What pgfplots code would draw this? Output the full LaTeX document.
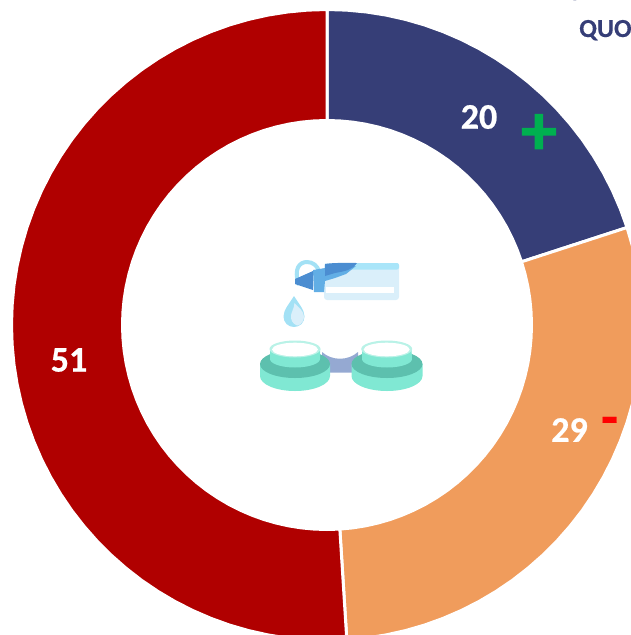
\documentclass[border=0pt]{standalone}
\usepackage{pgfplots}
\usepackage{fontspec}
\pgfplotsset{compat=1.18}
\setmainfont{Carlito}
\definecolor{navy}{HTML}{363E77}
\definecolor{orng}{HTML}{F09C5C}
\definecolor{rd}{HTML}{B00000}
\definecolor{grn}{HTML}{00B050}
\definecolor{tealA}{HTML}{80E8D3}
\definecolor{tealB}{HTML}{5DC0AE}
\definecolor{conn}{HTML}{95A9D2}
\definecolor{bodyb}{HTML}{DAEFFA}
\definecolor{topb}{HTML}{A9E5F9}
\definecolor{capA}{HTML}{4B8DD1}
\definecolor{capB}{HTML}{62AEE5}
\definecolor{loopc}{HTML}{A3E1F5}
\pgfplotsset{ring/.style={draw=white,line width=3pt,line join=miter},
 table/ringxy/.style={row sep=\\,x expr={327+\thisrow{r}*sin(3.6*\thisrow{p})},y expr={325-\thisrow{r}*cos(3.6*\thisrow{p})}}}
\newcommand{\lab}[2]{\fontsize{#1}{#1}\selectfont\bfseries\addfontfeature{FakeBold=#2}}
\begin{document}
\begin{tikzpicture}[x=1pt,y=1pt]
\useasboundingbox (0,0) rectangle (631,635);
\clip (0,0) rectangle (631,635);
\begin{axis}[at={(0,0)},anchor=south west,scale only axis,width=631pt,height=635pt,
 xmin=0,xmax=631,ymin=0,ymax=635,y dir=reverse,hide axis,clip=true]
% share 20
\addplot[ring,fill=navy] table[ringxy] {p r\\
0 315.5\\1 315.5\\2 315.5\\3 315.5\\4 315.5\\5 315.5\\6 315.5\\7 315.5\\8 315.5\\9 315.5\\10 315.5\\
11 315.5\\12 315.5\\13 315.5\\14 315.5\\15 315.5\\16 315.5\\17 315.5\\18 315.5\\19 315.5\\20 315.5\\
20 204.5\\19 204.5\\18 204.5\\17 204.5\\16 204.5\\15 204.5\\14 204.5\\13 204.5\\12 204.5\\11 204.5\\
10 204.5\\9 204.5\\8 204.5\\7 204.5\\6 204.5\\5 204.5\\4 204.5\\3 204.5\\2 204.5\\1 204.5\\0 204.5\\
} -- cycle;
% share 29
\addplot[ring,fill=orng] table[ringxy] {p r\\
20 315.5\\21 315.5\\22 315.5\\23 315.5\\24 315.5\\25 315.5\\26 315.5\\27 315.5\\28 315.5\\29 315.5\\
30 315.5\\31 315.5\\32 315.5\\33 315.5\\34 315.5\\35 315.5\\36 315.5\\37 315.5\\38 315.5\\39 315.5\\
40 315.5\\41 315.5\\42 315.5\\43 315.5\\44 315.5\\45 315.5\\46 315.5\\47 315.5\\48 315.5\\49 315.5\\
49 204.5\\48 204.5\\47 204.5\\46 204.5\\45 204.5\\44 204.5\\43 204.5\\42 204.5\\41 204.5\\40 204.5\\
39 204.5\\38 204.5\\37 204.5\\36 204.5\\35 204.5\\34 204.5\\33 204.5\\32 204.5\\31 204.5\\30 204.5\\
29 204.5\\28 204.5\\27 204.5\\26 204.5\\25 204.5\\24 204.5\\23 204.5\\22 204.5\\21 204.5\\20 204.5\\
} -- cycle;
% share 51
\addplot[ring,fill=rd] table[ringxy] {p r\\
49 315.5\\50 315.5\\51 315.5\\52 315.5\\53 315.5\\54 315.5\\55 315.5\\56 315.5\\57 315.5\\58 315.5\\59 315.5\\
60 315.5\\61 315.5\\62 315.5\\63 315.5\\64 315.5\\65 315.5\\66 315.5\\67 315.5\\68 315.5\\69 315.5\\
70 315.5\\71 315.5\\72 315.5\\73 315.5\\74 315.5\\75 315.5\\76 315.5\\77 315.5\\78 315.5\\79 315.5\\
80 315.5\\81 315.5\\82 315.5\\83 315.5\\84 315.5\\85 315.5\\86 315.5\\87 315.5\\88 315.5\\89 315.5\\
90 315.5\\91 315.5\\92 315.5\\93 315.5\\94 315.5\\95 315.5\\96 315.5\\97 315.5\\98 315.5\\99 315.5\\100 315.5\\
100 204.5\\99 204.5\\98 204.5\\97 204.5\\96 204.5\\95 204.5\\94 204.5\\93 204.5\\92 204.5\\91 204.5\\
90 204.5\\89 204.5\\88 204.5\\87 204.5\\86 204.5\\85 204.5\\84 204.5\\83 204.5\\82 204.5\\81 204.5\\
80 204.5\\79 204.5\\78 204.5\\77 204.5\\76 204.5\\75 204.5\\74 204.5\\73 204.5\\72 204.5\\71 204.5\\
70 204.5\\69 204.5\\68 204.5\\67 204.5\\66 204.5\\65 204.5\\64 204.5\\63 204.5\\62 204.5\\61 204.5\\
60 204.5\\59 204.5\\58 204.5\\57 204.5\\56 204.5\\55 204.5\\54 204.5\\53 204.5\\52 204.5\\51 204.5\\50 204.5\\49 204.5\\
} -- cycle;
% icon: bottle
\draw[loopc,line width=4pt] (299,285) .. controls (293,268) and (300,262) .. (307,262) .. controls (313,262) and (318,266) .. (319,272);
\fill[bodyb,rounded corners=3pt] (324,263) rectangle (399,300);
\fill[topb,rounded corners=2pt] (340,263) rectangle (399,269.5);
\fill[white] (326,287) rectangle (394,293);
\fill[capB] (313,270) -- (325,268) -- (356,266) -- (346,274) -- (335,278) -- (325,281) -- (324,292) -- (314,292) -- cycle;
\fill[capA] (325,264) .. controls (335,262.5) and (345,263) .. (357,263) .. controls (352,270) and (346,271) .. (335,273) -- (325,276) -- cycle;
\fill[capA] (295,279) -- (313,271) -- (313,290) -- (295,284) -- cycle;
% drop
\fill[loopc] (294,296) .. controls (289,304) and (283.5,310) .. (283.5,316.5) .. controls (283.5,322.5) and (288,327) .. (294,327) .. controls (300,327) and (304.5,322.5) .. (304.5,316.5) .. controls (304.5,310) and (299,304) .. (294,296) -- cycle;
\fill[bodyb] (294.5,303) .. controls (294,310) and (290.5,312) .. (291,318) .. controls (291.5,323) and (296,325.5) .. (298,325.5) .. controls (302,324) and (304,320) .. (304,316.5) .. controls (304,311) and (298,307) .. (294.5,303) -- cycle;
% connector
\fill[conn] (322,352) .. controls (332,361) and (348,361) .. (358,352) -- (358,372.5) -- (322,372.5) -- cycle;
% left case
\fill[tealA] (260,364) -- (260,376) arc[start angle=180,end angle=360,x radius=35pt,y radius=15pt] -- (330,364) -- cycle;
\fill[tealB] (295,364) ellipse (35pt and 14pt);
\fill[tealA] (270,349) -- (270,359) arc[start angle=180,end angle=360,x radius=25pt,y radius=8.5pt] -- (320,349) -- cycle;
\fill[tealA!55!white] (295,349) ellipse (25.5pt and 8.5pt);
\fill[white] (295,349.5) ellipse (23pt and 6.8pt);
% right case
\fill[tealA] (351.5,364) -- (351.5,376) arc[start angle=180,end angle=360,x radius=35.5pt,y radius=15pt] -- (422.5,364) -- cycle;
\fill[tealB] (387,364) ellipse (35.5pt and 14pt);
\fill[tealA] (362,349) -- (362,359) arc[start angle=180,end angle=360,x radius=25pt,y radius=8.5pt] -- (411.5,349) -- cycle;
\fill[tealA!55!white] (386.7,349) ellipse (25.5pt and 8.5pt);
\fill[white] (386.7,349.5) ellipse (23pt and 6.8pt);
% labels
\node[text=white,font=\lab{36}{0.6}] at (479,117) {20};
\node[text=white,font=\lab{36}{0.6}] at (569.5,430) {29};
\node[text=white,font=\lab{36}{0.6}] at (69,360) {51};
\node[text=grn,font=\lab{72}{1.6}] at (539,134.5) {+};
\node[text=red,font=\lab{56}{0.3}] at (609.5,426.4) {-};
\node[text=navy,font=\lab{26}{0.3},anchor=base west,inner sep=0pt] at (579,37) {QUO};
\node[text=navy,font=\lab{26}{0.3},anchor=base,inner sep=0pt] at (577,-4) {y};
\end{axis}
\end{tikzpicture}
\end{document}
